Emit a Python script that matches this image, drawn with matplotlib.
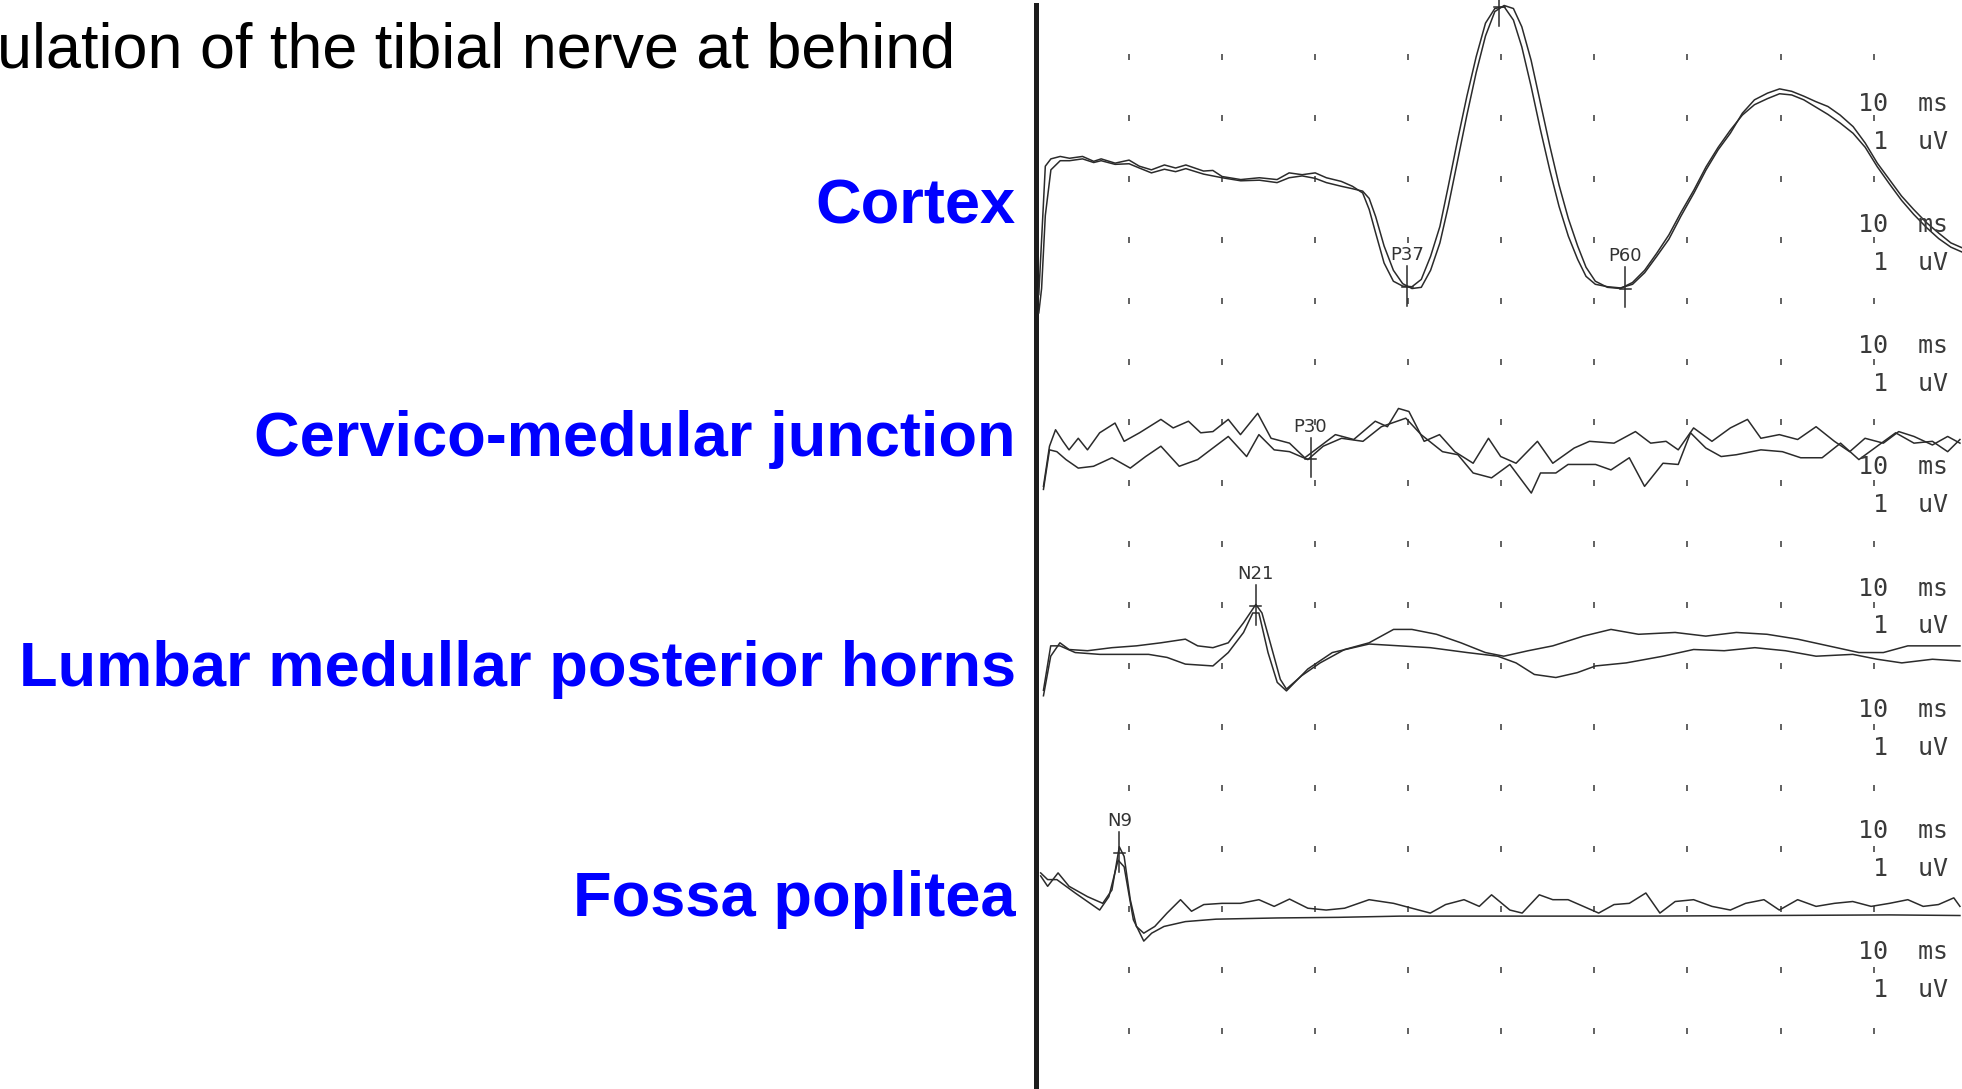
import numpy as np
import matplotlib
matplotlib.use("Agg")
import matplotlib.pyplot as plt

# ---- data (time in ms, amplitude in uV, up = positive) ----
cortex_t = [0.3, 0.6, 1.0, 1.6, 2.6, 3.6, 5.0, 6.2, 7.0, 8.5, 10.0, 11.1, 12.4, 13.8, 15.0,
            16.1, 18.0, 19.0, 20.0, 22.0, 24.0, 25.9, 27.2, 28.6, 30.0, 31.2, 32.8, 34.0, 35.1, 35.8,
            36.5, 37.4, 38.4, 39.4, 40.4, 41.4, 42.4, 43.4, 44.3, 45.3, 46.3, 47.3, 48.3, 49.3, 50.3,
            51.3, 52.2, 53.2, 54.2, 55.2, 56.2, 57.2, 58.2, 59.1, 60.1, 61.4, 62.8, 64.1, 65.4, 66.7,
            68.0, 69.3, 70.7, 72.0, 73.3, 74.6, 75.9, 77.2, 78.6, 79.9, 81.2, 82.5, 83.8, 85.1, 86.4,
            87.8, 89.1, 90.4, 91.7, 93.0, 94.3, 95.7, 97.0, 98.3, 99.5]
cortex_a = [-1.9, -1.0, 0.21, 0.33, 0.37, 0.34, 0.37, 0.29, 0.33, 0.26, 0.31, 0.21, 0.15, 0.23, 0.18,
            0.23, 0.13, 0.14, 0.04, -0.01, 0.02, -0.01, 0.10, 0.07, 0.10, 0.02, -0.04, -0.12, -0.23, -0.50,
            -0.89, -1.38, -1.68, -1.76, -1.77, -1.65, -1.27, -0.78, -0.12, 0.64, 1.36, 2.01, 2.56, 2.80, 2.83,
            2.61, 2.17, 1.52, 0.81, 0.15, -0.45, -0.94, -1.32, -1.60, -1.73, -1.77, -1.79, -1.73, -1.54, -1.27,
            -0.99, -0.61, -0.23, 0.15, 0.48, 0.75, 1.08, 1.30, 1.41, 1.48, 1.44, 1.36, 1.27, 1.19, 1.05,
            0.86, 0.59, 0.26, -0.01, -0.28, -0.50, -0.72, -0.89, -1.05, -1.13]
cortex_b = [-2.2, -1.8, -0.6, 0.15, 0.30, 0.30, 0.33, 0.27, 0.30, 0.24, 0.25, 0.18, 0.10, 0.16, 0.12,
            0.17, 0.08, 0.05, 0.02, -0.03, -0.02, -0.06, 0.02, 0.05, 0.01, -0.06, -0.12, -0.16, -0.20, -0.32,
            -0.62, -1.10, -1.50, -1.72, -1.80, -1.78, -1.50, -1.05, -0.45, 0.30, 1.05, 1.75, 2.35, 2.75, 2.85,
            2.80, 2.50, 1.95, 1.25, 0.55, -0.10, -0.65, -1.10, -1.45, -1.68, -1.78, -1.80, -1.70, -1.50, -1.22,
            -0.92, -0.55, -0.18, 0.20, 0.52, 0.80, 1.05, 1.22, 1.32, 1.40, 1.38, 1.30, 1.18, 1.06, 0.92,
            0.75, 0.52, 0.20, -0.08, -0.35, -0.58, -0.80, -0.98, -1.12, -1.20]

cmj_t1 = [0.8, 1.45, 2.1, 2.9, 3.55, 4.54, 5.53, 6.84, 8.49, 9.47, 11.12, 13.42, 14.74, 16.38, 17.7,
          19.01, 20.66, 21.97, 23.82, 25.26, 27.24, 28.88, 30.53, 32.17, 34.14, 36.45, 37.76, 38.95, 40.07,
          41.71, 43.36, 45.0, 46.97, 48.62, 49.93, 51.58, 53.88, 55.53, 57.83, 59.47, 62.11, 64.41, 66.05,
          67.7, 69.01, 70.66, 72.63, 74.61, 76.45, 77.89, 79.87, 81.84, 83.82, 85.79, 87.43, 89.08, 91.05,
          92.7, 94.34, 96.32, 97.96, 99.28]
cmj_a1 = [-0.55, 0.11, 0.38, 0.19, 0.05, 0.24, 0.05, 0.33, 0.49, 0.19, 0.33, 0.55, 0.41, 0.52, 0.33,
          0.35, 0.55, 0.30, 0.65, 0.24, 0.16, -0.08, 0.11, 0.30, 0.22, 0.52, 0.43, 0.73, 0.68,
          0.19, 0.30, 0.02, -0.17, 0.24, -0.06, -0.17, 0.19, -0.17, 0.08, 0.19, 0.16, 0.35, 0.16,
          0.19, 0.05, 0.41, 0.19, 0.41, 0.55, 0.24, 0.30, 0.22, 0.43, 0.19, 0.02, 0.24, 0.16,
          0.35, 0.27, 0.13, 0.27, 0.16]
cmj_t2 = [0.8, 1.45, 2.24, 3.22, 4.54, 6.18, 8.16, 10.13, 11.78, 13.42, 15.39, 17.37, 19.01, 20.66,
          22.63, 23.95, 25.59, 27.24, 29.21, 30.86, 32.83, 35.13, 37.11, 39.74, 41.38, 43.68, 45.33,
          46.97, 48.95, 50.92, 53.22, 54.21, 55.86, 57.17, 58.49, 60.13, 61.78, 63.75, 65.39, 67.37,
          69.01, 70.33, 71.97, 73.62, 75.26, 77.89, 80.2, 82.17, 84.47, 86.45, 88.42, 90.39, 92.37,
          94.34, 96.32, 97.96, 99.28]
cmj_a2 = [-0.6, 0.05, 0.02, -0.11, -0.25, -0.22, -0.08, -0.25, -0.06, 0.11, -0.22, -0.11, 0.08, 0.27,
          -0.06, 0.30, 0.05, 0.02, -0.11, 0.11, 0.24, 0.19, 0.43, 0.57, 0.30, 0.02, -0.03,
          -0.33, -0.41, -0.19, -0.66, -0.33, -0.33, -0.19, -0.19, -0.19, -0.28, -0.08, -0.55, -0.17,
          -0.19, 0.33, 0.08, -0.06, -0.03, 0.05, 0.02, -0.08, -0.08, 0.16, -0.11, 0.11, 0.33,
          0.16, 0.19, 0.02, 0.22]

lumb_t1 = [0.8, 1.58, 2.57, 3.55, 5.53, 8.16, 10.79, 13.42, 16.05, 17.37, 19.01, 20.66, 22.3, 23.62,
           24.28, 25.26, 26.25, 26.91, 28.55, 30.53, 33.16, 35.79, 38.42, 40.39, 43.03, 45.66, 48.29,
           50.26, 52.89, 55.53, 58.82, 61.78, 64.74, 68.68, 71.97, 75.26, 78.55, 81.84, 85.13, 88.42,
           91.05, 93.68, 96.32, 99.28]
lumb_a1 = [-0.99, -0.34, -0.12, -0.23, -0.25, -0.20, -0.17, -0.12, -0.06, -0.17, -0.20, -0.12, 0.21, 0.51,
           0.37, -0.17, -0.72, -0.88, -0.66, -0.45, -0.23, -0.12, 0.10, 0.10, 0.02, -0.12, -0.28,
           -0.34, -0.25, -0.17, -0.01, 0.10, 0.02, 0.05, -0.01, 0.05, 0.02, -0.06, -0.17, -0.28,
           -0.28, -0.17, -0.17, -0.17]
lumb_t2 = [0.8, 1.58, 2.57, 4.21, 6.84, 9.47, 12.1, 14.08, 16.05, 19.01, 20.66, 22.3, 23.29, 23.95,
           24.93, 25.92, 26.91, 29.21, 31.84, 35.79, 39.08, 42.37, 46.32, 49.61, 51.58, 53.55, 55.86,
           58.16, 60.13, 63.42, 67.37, 70.66, 73.95, 77.24, 80.53, 83.82, 87.76, 90.39, 93.03, 96.32, 99.28]
lumb_a2 = [-0.9, -0.17, -0.17, -0.28, -0.31, -0.31, -0.31, -0.36, -0.47, -0.50, -0.28, 0.05, 0.37, 0.37,
           -0.28, -0.77, -0.91, -0.55, -0.28, -0.14, -0.17, -0.20, -0.28, -0.34, -0.45, -0.64, -0.69,
           -0.61, -0.50, -0.45, -0.34, -0.23, -0.25, -0.20, -0.25, -0.34, -0.31, -0.39, -0.45, -0.39, -0.42]

fossa_t1 = [0.5, 1.25, 2.37, 3.55, 5.53, 7.17, 8.16, 8.95, 9.47, 10.13, 10.79, 11.58, 12.76, 14.08,
            15.53, 16.71, 18.03, 20.0, 21.97, 23.95, 25.59, 27.24, 29.21, 31.18, 33.16, 35.79, 38.42,
            40.39, 42.37, 44.01, 45.99, 47.63, 48.95, 50.92, 52.24, 54.08, 55.53, 57.17, 58.82, 60.46,
            62.11, 63.75, 65.53, 67.04, 68.68, 70.66, 72.63, 74.61, 76.25, 78.22, 79.87, 81.84, 83.82,
            85.79, 87.76, 89.74, 91.71, 93.68, 95.33, 96.97, 98.62, 99.28]
fossa_a1 = [0.55, 0.38, 0.60, 0.38, 0.21, 0.10, 0.32, 1.03, 0.87, 0.16, -0.28, -0.39, -0.28, -0.06,
            0.16, -0.03, 0.08, 0.10, 0.10, 0.16, 0.05, 0.17, 0.02, -0.01, 0.02, 0.16, 0.10,
            0.02, -0.06, 0.08, 0.16, 0.05, 0.24, -0.01, -0.06, 0.24, 0.16, 0.16, 0.05, -0.06,
            0.08, 0.10, 0.27, -0.06, 0.13, 0.16, 0.05, -0.01, 0.10, 0.16, -0.01, 0.16, 0.05,
            0.10, 0.13, 0.05, 0.10, 0.16, 0.05, 0.08, 0.19, 0.05]
fossa_t2 = [0.5, 1.25, 2.24, 4.21, 6.84, 7.83, 8.82, 9.47, 10.46, 11.58, 12.43, 13.75, 16.05, 19.34,
            25.92, 32.5, 39.08, 52.24, 65.39, 78.55, 91.71, 99.28]
fossa_a2 = [0.6, 0.49, 0.49, 0.27, -0.01, 0.21, 0.81, 0.70, -0.17, -0.52, -0.39, -0.28, -0.20, -0.16,
            -0.14, -0.13, -0.11, -0.11, -0.11, -0.10, -0.09, -0.10]

# labelled peaks: name, latency (ms), amplitude (uV), channel index
peak_names = ["P37", "P60", "", "P30", "N21", "N9"]
peak_lat = [39.9, 63.3, 49.8, 29.5, 23.6, 8.95]
peak_amp = [-1.78, -1.80, 2.82, -0.10, 0.48, 0.92]
peak_chan = [0, 0, 0, 1, 2, 3]

channel_names = ["Cortex", "Cervico-medular junction", "Lumbar medullar posterior horns", "Fossa poplitea"]
title_text = "ulation of the tibial nerve at behind"
cal_time = "10  ms"
cal_amp = " 1  uV"

# ---- layout ----
W, H = 1962, 1089
fig = plt.figure(figsize=(W / 100, H / 100), dpi=100)
fig.patch.set_facecolor("white")

ax = fig.add_axes([1020 / W, 0, (W - 1020) / W, 1])
ax.set_xlim(-1.72, 99.5)
ax.set_ylim(16.95, -0.94)
ax.axis("off")

baselines = [2.0, 6.5, 9.5, 14.0]
traces = [
    (cortex_t, cortex_a, 0), (cortex_t, cortex_b, 0),
    (cmj_t1, cmj_a1, 1), (cmj_t2, cmj_a2, 1),
    (lumb_t1, lumb_a1, 2), (lumb_t2, lumb_a2, 2),
    (fossa_t1, fossa_a1, 3), (fossa_t2, fossa_a2, 3),
]

# dotted division grid (10 ms x 1 uV)
gx, gy = np.meshgrid(np.arange(10, 91, 10), np.arange(0, 17))
ax.plot(gx.ravel(), gy.ravel(), linestyle="none", marker="|", markersize=4,
        markeredgewidth=1.3, color="#555555")

# stimulus marker bar
ax.axvline(0, ymin=0, ymax=0.995, color="#1c1c1c", lw=3.6)

for t, a, ch in traces:
    ax.plot(t, baselines[ch] - np.asarray(a), color="#2b2b2b", lw=1.1)

for name, lat, amp, ch in zip(peak_names, peak_lat, peak_amp, peak_chan):
    y = baselines[ch] - amp
    ax.plot([lat, lat], [y - 0.35, y + 0.3], color="#2b2b2b", lw=1.1)
    ax.plot([lat - 0.6, lat + 0.6], [y, y], color="#2b2b2b", lw=1.1)
    if name:
        ax.text(lat, y - 0.38, name, ha="center", va="bottom", fontsize=13,
                family=["Liberation Sans Narrow", "DejaVu Sans"], color="#333333")

# calibration text for every trace
for k in range(8):
    r = 0.77 + 1.99 * k
    ax.text(98.0, r, cal_time, ha="right", va="center", fontsize=18,
            family="DejaVu Sans Mono", color="#3a3a3a")
    ax.text(98.0, r + 0.62, cal_amp, ha="right", va="center", fontsize=18,
            family="DejaVu Sans Mono", color="#3a3a3a")

# texts on the left
fig.text(-3 / W, 1 - 68 / H, title_text, ha="left", va="baseline", fontsize=45.3,
         family="Liberation Sans", color="black")
for name, yb in zip(channel_names, [223, 456, 686, 916]):
    fig.text(1016 / W, 1 - yb / H, name, ha="right", va="baseline", fontsize=45.5,
             fontweight="bold", family="Liberation Sans", color="#0000ff")

fig.savefig("out.png", dpi=100)
